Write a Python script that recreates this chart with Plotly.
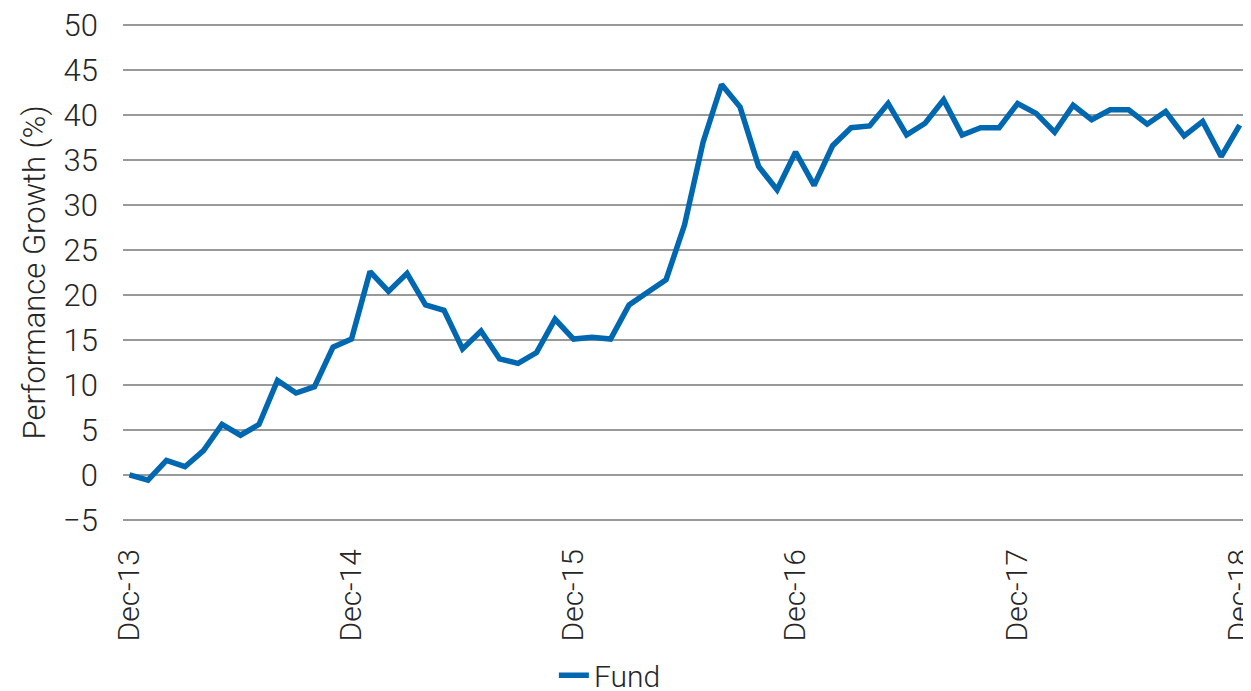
import plotly.graph_objects as go

tick_labels = ["Dec-13", "Dec-14", "Dec-15", "Dec-16", "Dec-17", "Dec-18"]
tick_positions = [0, 12, 24, 36, 48, 60]
y_ticks = [-5, 0, 5, 10, 15, 20, 25, 30, 35, 40, 45, 50]

fund = [
    0.0, -0.6, 1.6, 0.9, 2.7, 5.6, 4.4, 5.6, 10.5, 9.1, 9.8, 14.2,
    15.1, 22.6, 20.4, 22.4, 18.9, 18.3, 14.0, 16.0, 12.9, 12.4, 13.6, 17.3,
    15.1, 15.3, 15.1, 18.9, 20.3, 21.7, 27.8, 37.0, 43.4, 40.9, 34.3, 31.7,
    35.9, 32.2, 36.6, 38.6, 38.8, 41.3, 37.8, 39.1, 41.7, 37.8, 38.6, 38.6,
    41.3, 40.2, 38.1, 41.1, 39.5, 40.6, 40.6, 39.0, 40.4, 37.7, 39.3, 35.4,
    38.9,
]
months = list(range(len(fund)))

FONT = "Roboto"
TXT = "#262626"

fig = go.Figure()
fig.add_trace(go.Scatter(
    x=months, y=fund, mode="lines", name="Fund",
    line=dict(color="#0067B1", width=5.5),
))

fig.update_layout(
    width=1243, height=683,
    margin=dict(l=115, r=3, t=14.75, b=168.75, autoexpand=False),
    paper_bgcolor="white", plot_bgcolor="white",
    font=dict(family=FONT, size=24, color=TXT, weight=300),
    showlegend=True,
    legend=dict(orientation="h", x=0.383, xanchor="left",
                yref="container", y=0.023, yanchor="middle",
                font=dict(family=FONT, size=30, color=TXT, weight=300)),
    xaxis=dict(
        range=[-0.35, 60.45], tickmode="array", tickvals=tick_positions, ticktext=tick_labels,
        tickangle=-90, showgrid=False, zeroline=False, showline=False, ticks="",
        automargin=False, ticklabeloverflow="allow", ticklabelstandoff=20,
        tickfont=dict(family=FONT, size=30, color=TXT, weight=300),
    ),
    yaxis=dict(
        range=[-5.25, 50.25], tickmode="array", tickvals=y_ticks,
        showgrid=True, gridcolor="#999999", gridwidth=1.5,
        zeroline=False, showline=False, ticks="", automargin=False,
        ticklabelstandoff=24, ticklabeloverflow="allow",
        tickfont=dict(family=FONT, size=31, color=TXT, weight=300),
        title=dict(text="Performance Growth (%)", standoff=8,
                   font=dict(family=FONT, size=31, color=TXT, weight=300)),
    ),
)

fig.write_html("out.html")
